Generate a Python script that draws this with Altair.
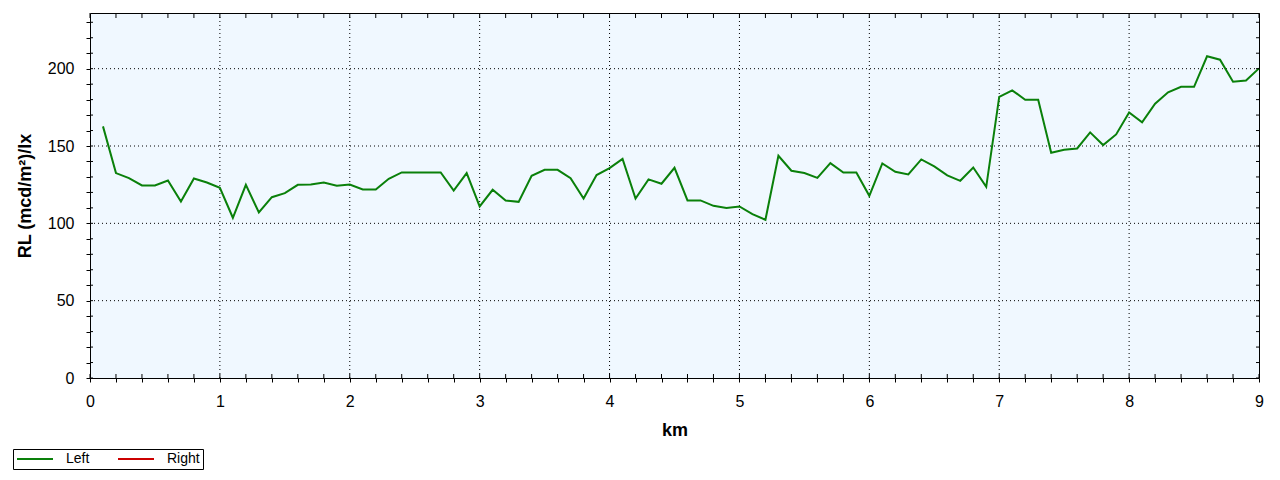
import altair as alt
import pandas as pd

# ---- data ----
km = [0.1, 0.2, 0.3, 0.4, 0.5, 0.6, 0.7, 0.8, 0.9, 1.0,
      1.1, 1.2, 1.3, 1.4, 1.5, 1.6, 1.7, 1.8, 1.9, 2.0,
      2.1, 2.2, 2.3, 2.4, 2.5, 2.6, 2.7, 2.8, 2.9, 3.0,
      3.1, 3.2, 3.3, 3.4, 3.5, 3.6, 3.7, 3.8, 3.9, 4.0,
      4.1, 4.2, 4.3, 4.4, 4.5, 4.6, 4.7, 4.8, 4.9, 5.0,
      5.1, 5.2, 5.3, 5.4, 5.5, 5.6, 5.7, 5.8, 5.9, 6.0,
      6.1, 6.2, 6.3, 6.4, 6.5, 6.6, 6.7, 6.8, 6.9, 7.0,
      7.1, 7.2, 7.3, 7.4, 7.5, 7.6, 7.7, 7.8, 7.9, 8.0,
      8.1, 8.2, 8.3, 8.4, 8.5, 8.6, 8.7, 8.8, 8.9, 9.0]

rl_left = [162.7, 132.5, 129.2, 124.5, 124.5, 127.7, 114.1, 129.0, 126.4, 123.0,
           103.6, 124.9, 107.0, 116.9, 119.5, 124.9, 125.1, 126.4, 124.3, 125.1,
           121.9, 121.9, 128.8, 132.9, 132.9, 132.9, 132.9, 121.2, 132.5, 110.9,
           121.7, 114.8, 113.9, 130.7, 134.6, 134.6, 129.2, 116.1, 131.2, 135.7,
           141.7, 116.1, 128.4, 125.6, 135.9, 114.8, 114.8, 111.3, 110.0, 110.9,
           105.9, 102.3, 143.7, 134.0, 132.5, 129.4, 138.9, 132.9, 132.9, 117.8,
           138.7, 133.3, 131.6, 141.3, 136.8, 131.0, 127.5, 136.1, 123.6, 181.7,
           186.0, 179.9, 179.9, 145.6, 147.6, 148.4, 158.8, 150.6, 157.5, 171.7,
           165.3, 177.3, 184.7, 188.3, 188.3, 208.0, 205.8, 191.6, 192.4, 200.2]

series = ["Left", "Right"]
series_colors = ["#0A800A", "#CC0000"]

x_ticks = [0, 0.2, 0.4, 0.6, 0.8, 1, 1.2, 1.4, 1.6, 1.8, 2, 2.2, 2.4, 2.6, 2.8,
           3, 3.2, 3.4, 3.6, 3.8, 4, 4.2, 4.4, 4.6, 4.8, 5, 5.2, 5.4, 5.6, 5.8,
           6, 6.2, 6.4, 6.6, 6.8, 7, 7.2, 7.4, 7.6, 7.8, 8, 8.2, 8.4, 8.6, 8.8, 9]
y_ticks = [0, 10, 20, 30, 40, 50, 60, 70, 80, 90, 100, 110, 120, 130, 140, 150,
           160, 170, 180, 190, 200, 210, 220, 230]
x_major = [1, 2, 3, 4, 5, 6, 7, 8]
y_major = [50, 100, 150, 200]

x_domain = [0, 9]
y_domain = [0, 236]

# ---- tables ----
df = pd.DataFrame({"km": km, "rl": rl_left, "side": "Left"})
xt = pd.DataFrame({"xt": x_ticks})
yt = pd.DataFrame({"yt": y_ticks})
xg = pd.DataFrame({"xg": x_major})
yg = pd.DataFrame({"yg": y_major})

W, H = 1169, 365
FONT = "Liberation Sans"

xscale = alt.Scale(domain=x_domain, nice=False, zero=False)
yscale = alt.Scale(domain=y_domain, nice=False)

x_axis = alt.Axis(
    values=x_ticks,
    labelExpr="datum.value % 1 === 0 ? format(datum.value, 'd') : ''",
    labelFlush=False, labelOverlap=False,
    labelFont=FONT, labelFontSize=16, labelColor="black", labelPadding=11,
    tickSize=4, tickColor="black", domain=False, grid=False,
    title="km", titleFont=FONT, titleFontSize=18, titleFontWeight="bold",
    titleColor="black", titlePadding=12,
)
y_axis = alt.Axis(
    values=y_ticks,
    labelExpr="datum.value % 50 === 0 ? format(datum.value, 'd') : ''",
    labelFlush=False, labelOverlap=False,
    labelFont=FONT, labelFontSize=16, labelColor="black", labelPadding=12,
    tickSize=4, tickColor="black", domain=False, grid=False,
    title="RL (mcd/m²)/lx", titleFont=FONT, titleFontSize=18, titleFontWeight="bold",
    titleColor="black", titlePadding=13,
)

def X(field):
    return alt.X(field, type="quantitative", scale=xscale, axis=x_axis)

def Y(field):
    return alt.Y(field, type="quantitative", scale=yscale, axis=y_axis)

xgrid = alt.Chart(xg).mark_rule(color="black", strokeWidth=1, strokeDash=[1, 3]).encode(
    x=X("xg"), y=alt.value(0), y2=alt.value(H),
)
ygrid = alt.Chart(yg).mark_rule(color="black", strokeWidth=1, strokeDash=[1, 3]).encode(
    y=Y("yg"), x=alt.value(0), x2=alt.value(W),
)

line = alt.Chart(df).mark_line(strokeWidth=2).encode(
    x=X("km"),
    y=Y("rl"),
    color=alt.Color(
        "side:N",
        scale=alt.Scale(domain=series, range=series_colors),
        legend=alt.Legend(
            orient="none", legendX=-77, legendY=436, direction="horizontal",
            title=None, symbolType="M-1,0H5", symbolSize=144, symbolStrokeWidth=2,
            labelFont=FONT, labelFontSize=14, labelColor="black",
            strokeColor="black", fillColor="white", padding=3,
            columnPadding=24, labelOffset=36,
        ),
    ),
)

# inner tick marks on the four sides of the frame
bottom_in = alt.Chart(xt).mark_rule(color="black", strokeWidth=1).encode(
    x=X("xt"), y=alt.value(H - 4), y2=alt.value(H),
)
top_in = alt.Chart(xt).mark_rule(color="black", strokeWidth=1).encode(
    x=X("xt"), y=alt.value(0), y2=alt.value(5),
)
left_in = alt.Chart(yt).mark_rule(color="black", strokeWidth=1).encode(
    y=Y("yt"), x=alt.value(0), x2=alt.value(3),
)
right_in = alt.Chart(yt).mark_rule(color="black", strokeWidth=1).encode(
    y=Y("yt"), x=alt.value(W - 3), x2=alt.value(W),
)

chart = alt.layer(xgrid, ygrid, line, bottom_in, top_in, left_in, right_in).properties(
    width=W, height=H,
    autosize=alt.AutoSizeParams(type="none"),
    padding={"left": 82, "top": 5, "right": 13, "bottom": 94},
    background="white",
).configure_view(
    fill="#F0F8FF", stroke="black", strokeWidth=1,
)

chart.save("out.html", embed_options={"renderer": "svg", "actions": False})
